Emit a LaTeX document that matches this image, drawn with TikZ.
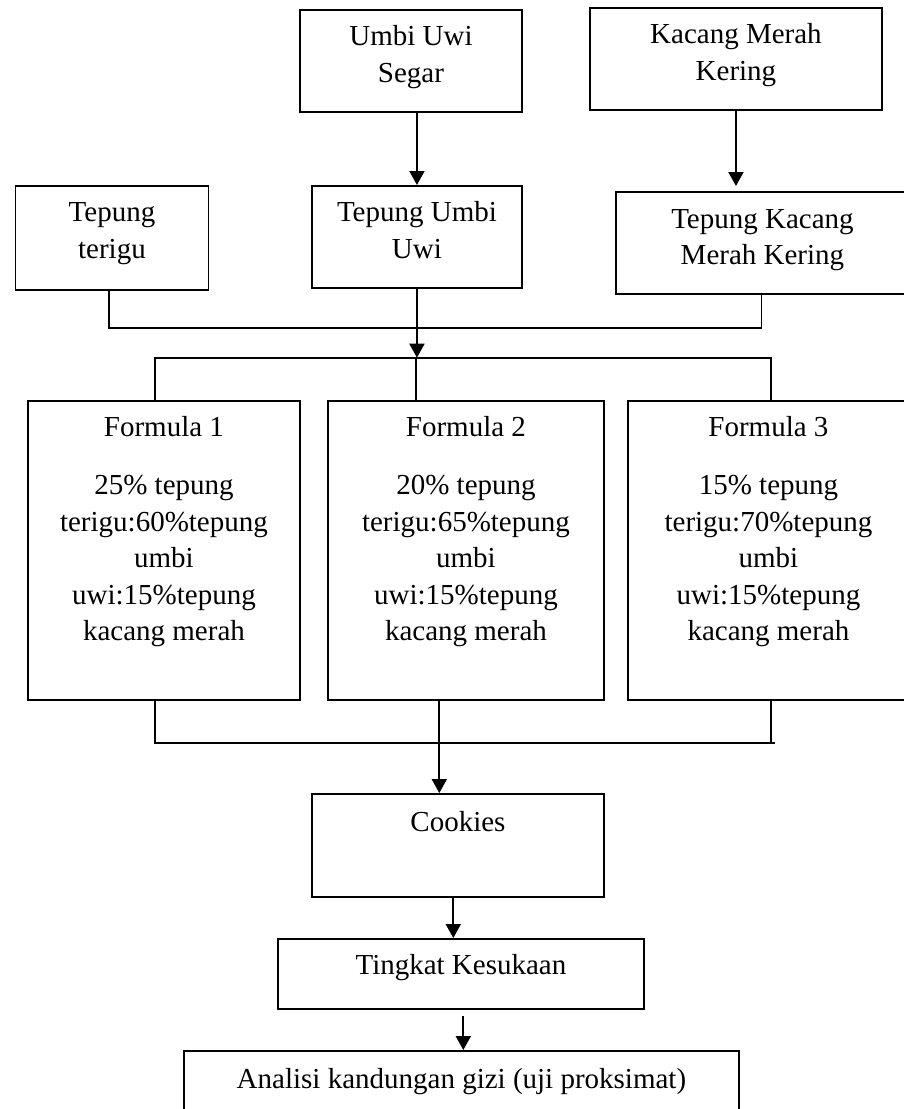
\documentclass[tikz,border=0pt]{standalone}
\usepackage{fontspec}
\setmainfont{Liberation Serif}
\usetikzlibrary{arrows.meta}
\newcommand{\mlines}[1]{\begin{tabular}[t]{@{}c@{}}#1\end{tabular}}
\begin{document}
\begin{tikzpicture}[x=1pt,y=-1pt,
  boxnode/.style={draw, line width=1.9pt, inner sep=0pt, anchor=north west},
  txt/.style={anchor=base, inner sep=0pt, font=\fontsize{29}{36.5}\selectfont},
  ln/.style={line width=1.9pt},
  arr/.style={line width=1.9pt, -{Triangle[length=14pt,width=15pt]}}]
\useasboundingbox (0,0) rectangle (904,1109);
\fill[white] (0,0) rectangle (904,1109);
\clip (0,0) rectangle (904,1109);

% top row
\node[boxnode, minimum width=222pt, minimum height=102pt] (umbi) at (299,9) {};
\node[txt] (umbi-t) at ([yshift=-36.7pt]umbi.north) {\mlines{Umbi Uwi\\Segar}};
\node[boxnode, minimum width=292pt, minimum height=102pt] (kacang) at (589,7) {};
\node[txt] (kacang-t) at ([yshift=-36.6pt]kacang.north) {\mlines{Kacang Merah\\Kering}};

% flour row
\node[boxnode, minimum width=193pt, minimum height=104pt] (terigu) at (14.5,185) {};
\node[txt] (terigu-t) at ([yshift=-36.7pt]terigu.north) {\mlines{Tepung\\terigu}};
\node[boxnode, minimum width=210pt, minimum height=102pt] (tumbi) at (311,185) {};
\node[txt] (tumbi-t) at ([yshift=-36.7pt]tumbi.north) {\mlines{Tepung Umbi\\Uwi}};
\node[boxnode, minimum width=293pt, minimum height=102pt] (tkacang) at (615,191) {};
\node[txt] (tkacang-t) at ([yshift=-37.3pt]tkacang.north) {\mlines{Tepung Kacang\\Merah Kering}};

% formula row
\node[boxnode, minimum width=272pt, minimum height=299pt] (f1) at (27,400) {};
\node[txt] (f1-t) at ([yshift=-36.7pt]f1.north) {\mlines{Formula 1\\[21.5pt]25\% tepung\\terigu:60\%tepung\\umbi\\uwi:15\%tepung\\kacang merah}};
\node[boxnode, minimum width=276pt, minimum height=299pt] (f2) at (327,400) {};
\node[txt] (f2-t) at ([yshift=-36.7pt]f2.north) {\mlines{Formula 2\\[21.5pt]20\% tepung\\terigu:65\%tepung\\umbi\\uwi:15\%tepung\\kacang merah}};
\node[boxnode, minimum width=281pt, minimum height=299pt] (f3) at (627,400) {};
\node[txt] (f3-t) at ([yshift=-36.7pt]f3.north) {\mlines{Formula 3\\[21.5pt]15\% tepung\\terigu:70\%tepung\\umbi\\uwi:15\%tepung\\kacang merah}};

% lower chain
\node[boxnode, minimum width=292pt, minimum height=103pt] (cookies) at (311,793) {};
\node[txt] (cookies-t) at ([yshift=-38.4pt]cookies.north) {Cookies};
\node[boxnode, minimum width=366pt, minimum height=70pt] (tingkat) at (277,938) {};
\node[txt] (tingkat-t) at ([yshift=-36.6pt]tingkat.north) {Tingkat Kesukaan};
\node[boxnode, minimum width=555pt, minimum height=100pt] (analisi) at (183,1050) {};
\node[txt] (analisi-t) at ([yshift=-38pt]analisi.north) {Analisi kandungan gizi (uji proksimat)};

% connector points
\coordinate (j1) at (109,327.7);
\coordinate (j3) at (761.5,327.7);
\coordinate (d1) at (155,357.7);
\coordinate (d2) at (416,357.7);
\coordinate (d3) at (771.3,357.7);
\coordinate (b1) at (155,742.7);
\coordinate (b2) at (439.3,742.7);
\coordinate (b3) at (771.4,742.7);
\coordinate (be) at (775.4,742.7);
\coordinate (c1) at (453.3,900);
\coordinate (t1) at (463.3,1016);

% arrows top
\draw[arr] (umbi.south -| tumbi.north) -- (tumbi.north);
\draw[arr, shorten >=5pt] (kacang.south) -- (kacang.south |- tkacang.north);

% join
\draw[ln] (terigu.south -| j1) -- (j1) -- (j3) -- (tkacang.south -| j3);
\draw[arr] (tumbi.south) -- (tumbi.south |- d2);

% distribution
\draw[ln] (d1 |- f1.north) -- (d1) -- (d3) -- (d3 |- f3.north);
\draw[ln] (d2) -- (d2 |- f2.north);

% collect
\draw[ln] (f1.south -| b1) -- (b1) -- (be);
\draw[ln] (f3.south -| b3) -- (b3);
\draw[arr] (f2.south -| b2) -- (b2 |- cookies.north);

% bottom chain
\draw[arr] (cookies.south -| c1) -- (c1 |- tingkat.north);
\draw[arr] (t1) -- (t1 |- analisi.north);
\end{tikzpicture}
\end{document}
